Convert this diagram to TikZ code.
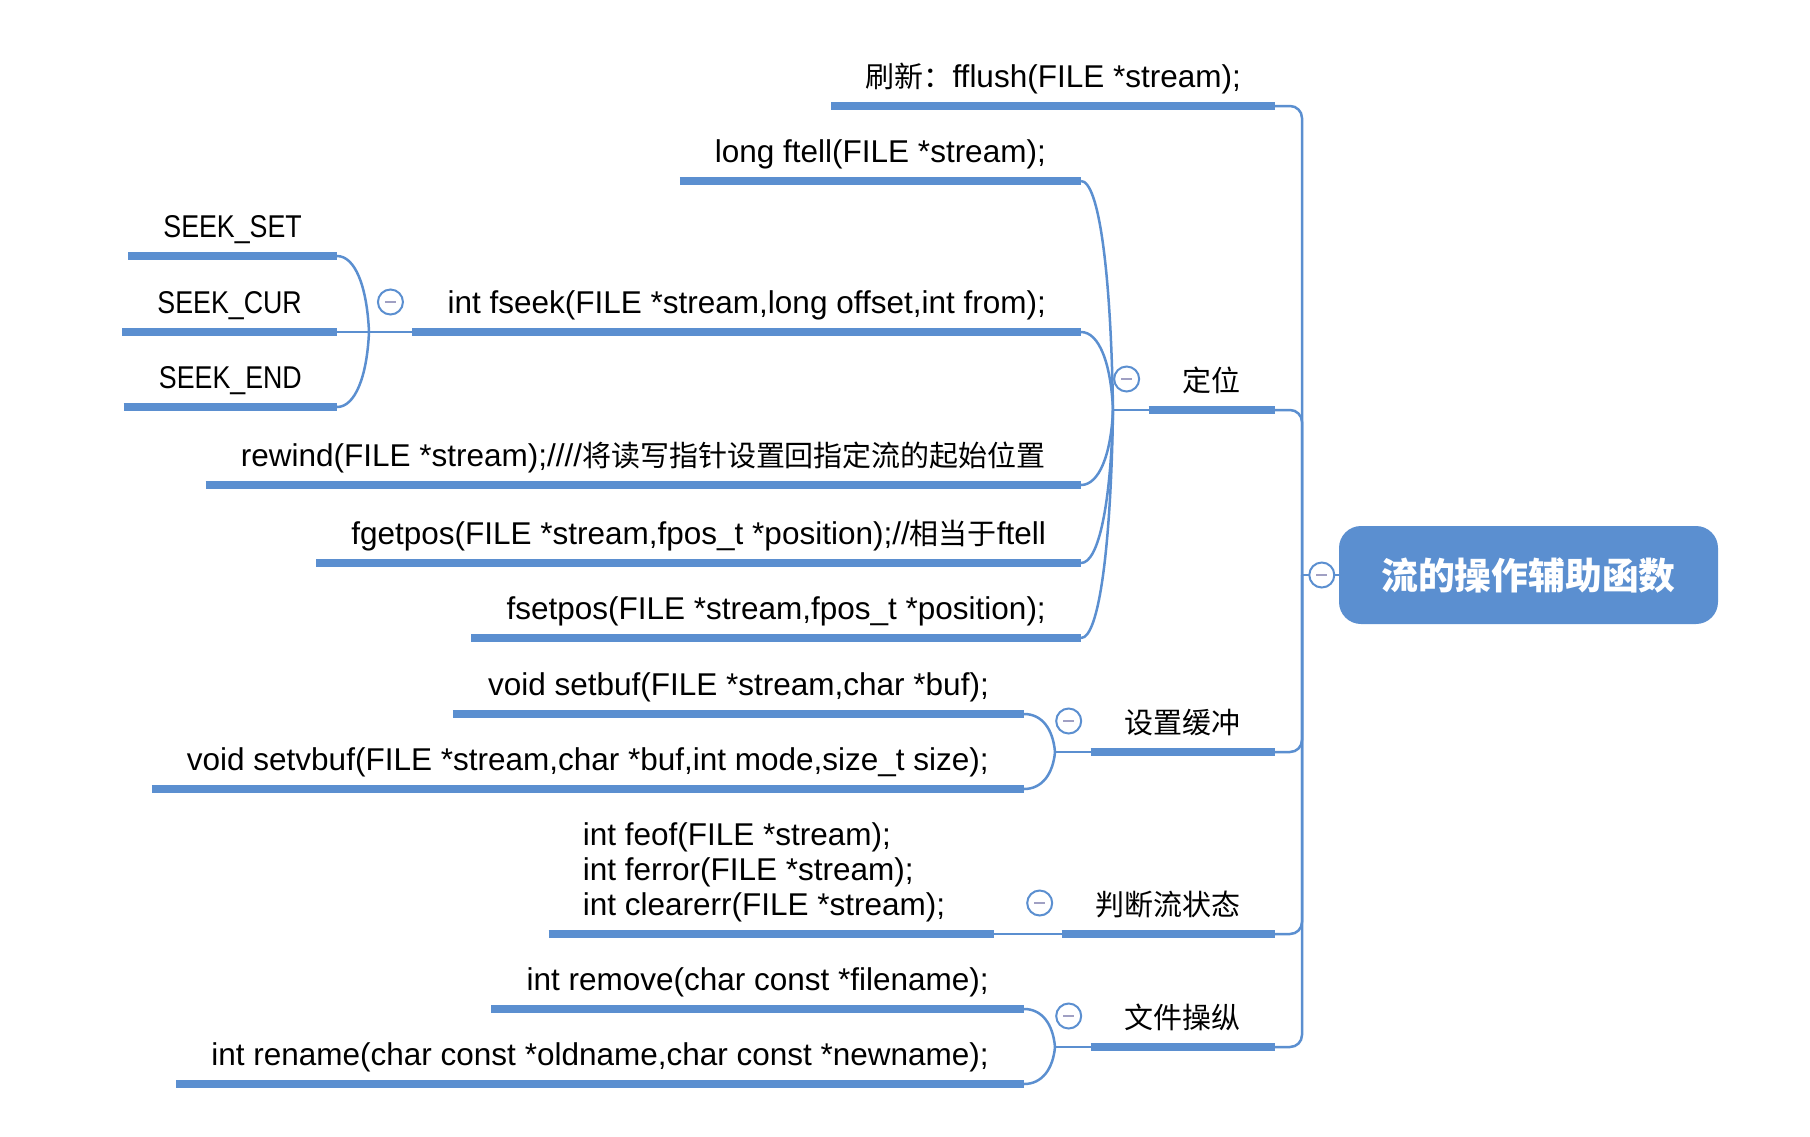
\documentclass[tikz,border=0pt]{standalone}
\usepackage{fontspec}
\setmainfont[Ligatures=CommonOff]{Liberation Sans}
\newfontfamily\cjk[Scale=0.92]{Noto Sans CJK SC}
\usetikzlibrary{calc}
\definecolor{xmblue}{RGB}{91,143,208}
\definecolor{minuscol}{RGB}{160,160,195}
\newcommand\crv[3]{\draw[conn] (#1.south east) .. controls +(18,0) and +(-2,#3) .. (#2);}
\newcommand\narrow[1]{\scalebox{0.85}[1]{#1}}
\begin{document}
\begin{tikzpicture}[x=1pt,y=-1pt,
  txt/.style={font=\fontsize{31.5}{35}\selectfont, text=black, inner xsep=35pt, inner ysep=0pt, text height=24pt, text depth=18pt, anchor=south east},
  lvl/.style={txt, inner xsep=34pt},
  uline/.style={draw=xmblue, line width=8pt},
  conn/.style={draw=xmblue, line width=2.5pt},
  trunkline/.style={conn, rounded corners=12pt},
  collapse/.style={circle, draw=xmblue, fill=white, line width=2pt, minimum size=25pt, inner sep=0pt,
    path picture={\draw[minuscol, line width=2.5pt] ([xshift=-5.5pt]path picture bounding box.center) -- ([xshift=5.5pt]path picture bounding box.center);}},
  rootbox/.style={fill=xmblue, rounded corners=22pt, minimum width=379pt, minimum height=98pt, inner sep=0pt, text=white, font=\fontsize{40}{44}\selectfont\cjk\bfseries},
]
\useasboundingbox (0,0) rectangle (1810,1136);

% root
\node[rootbox] (root) at (1528.5,575) {流的操作辅助函数};
\coordinate (trunk) at (1302,575);

% level 1
\node[lvl] (flush) at (1275,106) {{\cjk 刷新：}fflush(FILE *stream);};
\node[lvl] (dw) at (1275,410) {\cjk 定位};
\node[lvl] (hc) at (1275,752) {\cjk 设置缓冲};
\node[lvl] (pd) at (1275,934) {\cjk 判断流状态};
\node[lvl] (wj) at (1275,1047) {\cjk 文件操纵};

% leaves
\node[txt] (ftell) at (1081,181) {long ftell(FILE *stream);};
\node[txt] (fseek) at (1081,332) {int fseek(FILE *stream,long offset,int from);};
\node[txt] (sset) at (337,256) {\narrow{SEEK\_SET}};
\node[txt] (scur) at (337,332) {\narrow{SEEK\_CUR}};
\node[txt] (send) at (337,407) {\narrow{SEEK\_END}};
\node[txt] (rewind) at (1081,485) {rewind(FILE *stream);////{\cjk 将读写指针设置回指定流的起始位置}};
\node[txt] (fgetpos) at (1081,563) {fgetpos(FILE *stream,fpos\_t *position);//{\cjk 相当于}ftell};
\node[txt] (fsetpos) at (1081,638) {fsetpos(FILE *stream,fpos\_t *position);};
\node[txt] (setbuf) at (1024,714) {void setbuf(FILE *stream,char *buf);};
\node[txt] (setvbuf) at (1024,789) {void setvbuf(FILE *stream,char *buf,int mode,size\_t size);};
\node[txt, inner xsep=34pt] (feof) at (994,934) {\makebox[377pt][l]{\begin{tabular}[b]{@{}l@{}}int feof(FILE *stream);\\int ferror(FILE *stream);\\int clearerr(FILE *stream);\end{tabular}}};
\node[txt] (remove) at (1024,1009) {int remove(char const *filename);};
\node[txt] (rename) at (1024,1084) {int rename(char const *oldname,char const *newname);};

% underlines
\foreach \n in {flush,dw,hc,pd,wj,ftell,fseek,sset,scur,send,rewind,fgetpos,fsetpos,setbuf,setvbuf,feof,remove,rename}
  \draw[uline] (\n.south west) -- (\n.south east);

% trunk
\draw[conn] (root.west) -- (trunk);
\foreach \n in {flush,dw,hc,pd,wj}
  \draw[trunkline] (trunk) |- (\n.south east);

% branch points
\coordinate (dwb) at (1113,410);
\coordinate (fsb) at (369,332);
\coordinate (hcb) at (1055,752);
\coordinate (wjb) at (1055,1047);

% 定位
\draw[conn] (dwb) -- (dw.south west);
\crv{ftell}{dwb}{-137}
\crv{fseek}{dwb}{-47}
\crv{rewind}{dwb}{45}
\crv{fgetpos}{dwb}{92}
\crv{fsetpos}{dwb}{137}

% fseek
\draw[conn] (fsb) -- (fseek.south west);
\draw[conn] (scur.south east) -- (fsb);
\crv{sset}{fsb}{-46}
\crv{send}{fsb}{45}

% 设置缓冲
\draw[conn] (hcb) -- (hc.south west);
\crv{setbuf}{hcb}{-23}
\crv{setvbuf}{hcb}{22}

% 判断流状态
\draw[conn] (feof.south east) -- (pd.south west);

% 文件操纵
\draw[conn] (wjb) -- (wj.south west);
\crv{remove}{wjb}{-23}
\crv{rename}{wjb}{22}

% collapse markers
\node[collapse] (croot) at ($(root.west)+(-17,0)$) {};
\node[collapse] (cdw) at ($(dw.south west)+(-22,-31)$) {};
\node[collapse] (cfs) at ($(fseek.south west)+(-22,-30)$) {};
\node[collapse] (chc) at ($(hc.south west)+(-22,-31)$) {};
\node[collapse] (cpd) at ($(pd.south west)+(-22,-31)$) {};
\node[collapse] (cwj) at ($(wj.south west)+(-22,-31)$) {};
\end{tikzpicture}
\end{document}
